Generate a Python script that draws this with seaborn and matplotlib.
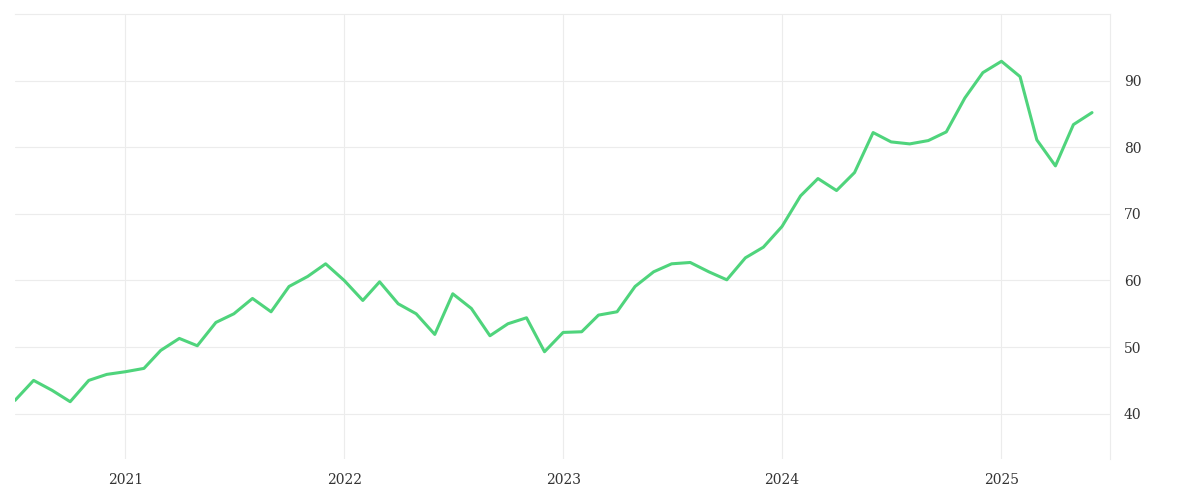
import matplotlib
matplotlib.use("Agg")
import matplotlib.pyplot as plt
import matplotlib.dates as mdates
import seaborn as sns
import pandas as pd

# Monthly values, Jul 2020 - Jun 2025
dates = pd.date_range("2020-07-01", periods=60, freq="MS")
values = [
    42.0, 45.0, 43.5, 41.8, 45.0, 45.9,
    46.3, 46.8, 49.5, 51.3, 50.2, 53.7, 55.0, 57.3, 55.3, 59.1, 60.6, 62.5,
    60.0, 57.0, 59.8, 56.5, 55.0, 51.9, 58.0, 55.8, 51.7, 53.5, 54.4, 49.3,
    52.2, 52.3, 54.8, 55.3, 59.1, 61.3, 62.5, 62.7, 61.3, 60.1, 63.4, 65.0,
    68.1, 72.7, 75.3, 73.5, 76.2, 82.2, 80.8, 80.5, 81.0, 82.3, 87.4, 91.2,
    92.9, 90.6, 81.1, 77.2, 83.4, 85.2,
]
df = pd.DataFrame({"date": dates, "value": values})

sns.set_style("white")
fig = plt.figure(figsize=(12, 5), dpi=100)
ax = fig.add_axes([15 / 1200, 41 / 500, 1095 / 1200, 445 / 500])

sns.lineplot(data=df, x="date", y="value", ax=ax, color="#4fd47c", linewidth=2.2)

ax.set_xlim(pd.Timestamp("2020-07-01"), pd.Timestamp("2025-07-01"))
ax.set_ylim(33.2, 100)
ax.set_yticks([40, 50, 60, 70, 80, 90])
ax.xaxis.set_major_locator(mdates.YearLocator())
ax.xaxis.set_major_formatter(mdates.DateFormatter("%Y"))
ax.yaxis.tick_right()
ax.grid(True, color="#ececec", linewidth=0.8)
ax.set_xlabel("")
ax.set_ylabel("")
for s in ["left", "bottom"]:
    ax.spines[s].set_visible(False)
for s in ["top", "right"]:
    ax.spines[s].set_color("#ececec")
ax.tick_params(length=0, pad=10, labelsize=10, colors="#333333")
for lbl in ax.get_xticklabels() + ax.get_yticklabels():
    lbl.set_fontfamily("DejaVu Serif")

fig.savefig("out.png", dpi=100)
